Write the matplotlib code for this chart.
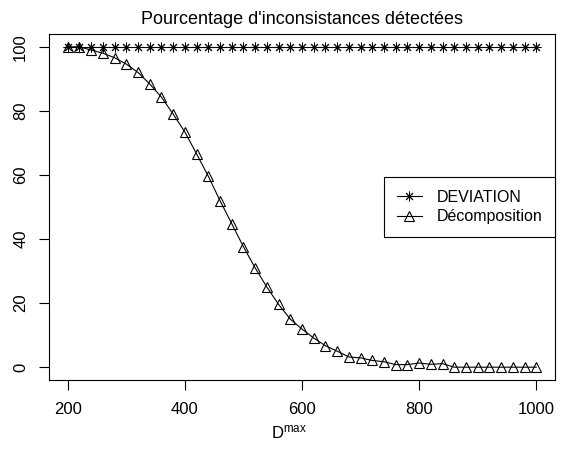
import matplotlib
matplotlib.use("Agg")
import matplotlib.pyplot as plt

plt.rcParams['font.family'] = ['Liberation Sans', 'DejaVu Sans']
plt.rcParams['mathtext.fontset'] = 'custom'
plt.rcParams['mathtext.rm'] = 'Liberation Sans'

# Data
d_max = list(range(200, 1001, 20))
deviation = [100] * len(d_max)
decomposition = [100, 100, 99, 98, 96.6, 94.6, 92, 88.4, 84.3, 79, 73.4, 66.6,
                 59.6, 52, 44.8, 37.6, 31, 25, 19.6, 15, 11.9, 9.1, 6.7, 5,
                 3.2, 2.9, 2.1, 1.7, 0.8, 0.8, 1.3, 0.9, 1.1, 0, 0, 0, 0, 0,
                 0, 0, 0]

fig = plt.figure(figsize=(5.61, 4.59), dpi=100)
ax = fig.add_axes([49 / 561, 1 - 380 / 459, (555 - 49) / 561, (380 - 34) / 459])

ax.plot(d_max, deviation, color='black', lw=0.8, marker=(8, 2, 0), ms=7,
        mew=0.7, label='DEVIATION')
ax.plot(d_max, decomposition, color='black', lw=0.8, marker='^', ms=6.5,
        mfc='none', mew=0.8, label='Décomposition')

ax.set_xlim(168, 1032)
ax.set_ylim(-4, 104)
ax.set_xticks(range(200, 1001, 200))
ax.set_yticks(range(0, 101, 20))
ax.tick_params(direction='out', length=7, width=0.8, labelsize=12, colors='black')
ax.tick_params(axis='x', pad=9)
ax.tick_params(axis='y', pad=8)
for lab in ax.get_yticklabels():
    lab.set_rotation(90)
    lab.set_va('center')
for s in ax.spines.values():
    s.set_linewidth(0.8)
    s.set_color('black')

ax.set_title("Pourcentage d'inconsistances détectées", fontsize=13, pad=7)
ax.set_xlabel(r'$\mathregular{D^{max}}$', fontsize=12)
ax.xaxis.set_label_coords(0.475, -0.125)

leg = ax.legend(loc='center right', borderaxespad=0, fancybox=False,
                edgecolor='black', framealpha=1, fontsize=11.5,
                handlelength=1.6, handletextpad=0.9, borderpad=0.8,
                labelspacing=0.3)
leg.get_frame().set_linewidth(0.8)

fig.savefig('out.png', dpi=100)
